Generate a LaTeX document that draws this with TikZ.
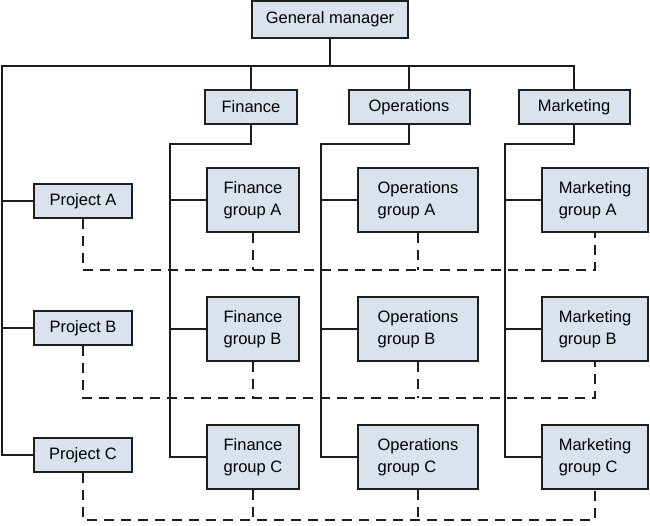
\documentclass[tikz,border=0pt]{standalone}
\usepackage{fontspec}
\setmainfont{Liberation Sans}
\usepackage{tikz}
\definecolor{cajafondo}{RGB}{218,226,238}
\definecolor{trazo}{RGB}{30,30,30}
\tikzset{
  unidad/.style={rectangle, draw=trazo, fill=cajafondo, line width=2pt,
    minimum height=34pt, inner sep=0pt, align=center,
    font=\fontsize{16.5}{21.5}\selectfont},
  grupo/.style={unidad, minimum height=64pt, align=left},
  linea/.style={line width=2pt, color=trazo},
  trazos/.style={linea, dash pattern=on 10pt off 7pt}
}

\begin{document}
\begin{tikzpicture}[x=1pt, y=-1pt]
  \useasboundingbox (0,0) rectangle (650,525);
  % direccion y departamentos
  \node[unidad, minimum width=156pt, minimum height=37pt] (gm) at (330,19.5) {General manager};
  \node[unidad, minimum width=92pt] (fin) at (251,107) {Finance};
  \node[unidad, minimum width=121pt] (ops) at (409,107) {Operations};
  \node[unidad, minimum width=111pt] (mkt) at (574,107) {Marketing};
  % proyectos
  \node[unidad, minimum width=98pt] (pA) at (83,201) {Project A};
  \node[unidad, minimum width=98pt] (pB) at (83,328) {Project B};
  \node[unidad, minimum width=98pt] (pC) at (83,455) {Project C};
  % grupos
  \node[grupo, minimum width=92pt] (finA) at (253,200) {Finance\\group A};
  \node[grupo, minimum width=92pt] (finB) at (253,329) {Finance\\group B};
  \node[grupo, minimum width=92pt] (finC) at (253,457) {Finance\\group C};
  \node[grupo, minimum width=120pt] (opsA) at (418,200) {Operations\\group A};
  \node[grupo, minimum width=120pt] (opsB) at (418,329) {Operations\\group B};
  \node[grupo, minimum width=120pt] (opsC) at (418,457) {Operations\\group C};
  \node[grupo, minimum width=106pt] (mktA) at (595,200) {Marketing\\group A};
  \node[grupo, minimum width=106pt] (mktB) at (595,329) {Marketing\\group B};
  \node[grupo, minimum width=106pt] (mktC) at (595,457) {Marketing\\group C};
  % lineas de mando
  \coordinate (bus) at (2,66);
  \coordinate (finbus) at (170,144);
  \coordinate (opsbus) at (321,144);
  \coordinate (mktbus) at (505,144);
  \draw[linea] (gm.south) -- (gm.south |- bus);
  \draw[linea] (pC.west) -| (bus) -| (mkt.north);
  \draw[linea] (fin.north) -- (fin.north |- bus);
  \draw[linea] (ops.north) -- (ops.north |- bus);
  \draw[linea] (pA.west) -- (pA.west -| bus);
  \draw[linea] (pB.west) -- (pB.west -| bus);
  \draw[linea] (fin.south) |- (finbus) |- (finC.west);
  \draw[linea] (finA.west) -- (finA.west -| finbus);
  \draw[linea] (finB.west) -- (finB.west -| finbus);
  \draw[linea] (ops.south) |- (opsbus) |- (opsC.west);
  \draw[linea] (opsA.west) -- (opsA.west -| opsbus);
  \draw[linea] (opsB.west) -- (opsB.west -| opsbus);
  \draw[linea] (mkt.south) |- (mktbus) |- (mktC.west);
  \draw[linea] (mktA.west) -- (mktA.west -| mktbus);
  \draw[linea] (mktB.west) -- (mktB.west -| mktbus);
  % lineas de proyecto
  \coordinate (filaA) at (0,270);
  \coordinate (filaB) at (0,398);
  \coordinate (filaC) at (0,520);
  \draw[trazos] (pA.south) |- (mktA.south |- filaA) -- (mktA.south);
  \draw[trazos] (finA.south) -- (finA.south |- filaA);
  \draw[trazos] (opsA.south) -- (opsA.south |- filaA);
  \draw[trazos] (pB.south) |- (mktB.south |- filaB) -- (mktB.south);
  \draw[trazos] (finB.south) -- (finB.south |- filaB);
  \draw[trazos] (opsB.south) -- (opsB.south |- filaB);
  \draw[trazos] (pC.south) |- (mktC.south |- filaC) -- (mktC.south);
  \draw[trazos] (finC.south) -- (finC.south |- filaC);
  \draw[trazos] (opsC.south) -- (opsC.south |- filaC);
\end{tikzpicture}
\end{document}
